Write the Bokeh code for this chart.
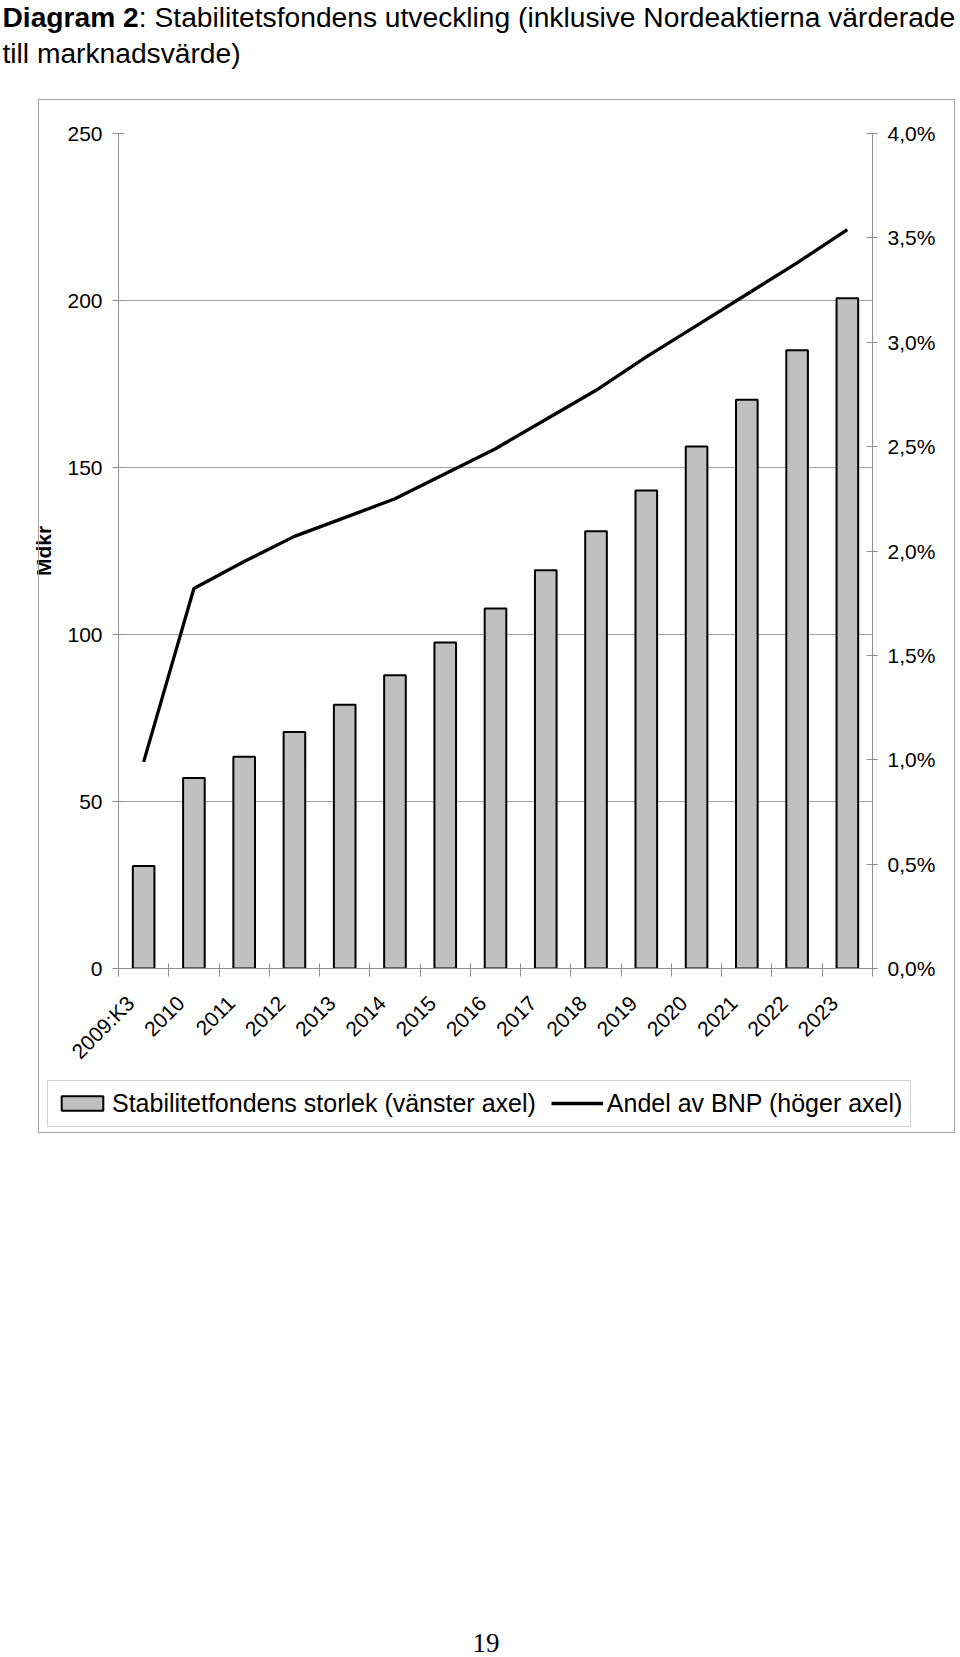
import math
from bokeh.plotting import figure
from bokeh.models import (Range1d, LinearAxis, FixedTicker, CustomJSTickFormatter,
                          Label, Legend, LegendItem, ColumnDataSource, Grid, InlineStyleSheet)
from bokeh.embed import file_html
from bokeh.resources import INLINE

# ---------------- data ----------------
categories = ["2009:K3", "2010", "2011", "2012", "2013", "2014", "2015", "2016",
              "2017", "2018", "2019", "2020", "2021", "2022", "2023"]
fund_size = [30.7, 57.0, 63.4, 70.8, 79.0, 87.8, 97.6, 107.8,
             119.2, 130.9, 143.1, 156.3, 170.3, 185.1, 200.7]          # Mdkr (left axis)
gdp_share = [0.99, 1.82, 1.95, 2.07, 2.16, 2.25, 2.37, 2.49,
             2.63, 2.77, 2.93, 3.08, 3.23, 3.38, 3.54]                 # % of BNP (right axis)
left_ticks = [0, 50, 100, 150, 200, 250]
right_ticks = [0.0, 0.5, 1.0, 1.5, 2.0, 2.5, 3.0, 3.5, 4.0]

title_bold = "Diagram 2"
title_rest = ": Stabilitetsfondens utveckling (inklusive Nordeaktierna värderade"
title_line2 = "till marknadsvärde)"
y_label = "Mdkr"
bar_label = "Stabilitetfondens storlek (vänster axel)"
line_label = "Andel av BNP (höger axel)"
page_number = "19"

# ---------------- layout ----------------
W, H = 960, 1657
FL, FR, FT, FB = 118, 88, 133, 689          # borders around the plot frame
LABEL_SHIFT = 0.26                           # x tick labels sit a bit left of bar centres
TEXT_DY = 8                                  # canvas-label baseline correction

FONT = "Liberation Sans"
AXIS_GREY = "#8f8f8f"
GRID_GREY = "#a3a3a3"

n = len(categories)
src = ColumnDataSource(dict(x=[i + 0.5 for i in range(n)], size=fund_size, share=gdp_share))

box_css = InlineStyleSheet(css="""
:host::after {
  content: "";
  position: absolute;
  left: 38px; top: 99px; width: 917px; height: 1034px;
  box-sizing: border-box;
  border: 1.5px solid #a3a3a3;
  pointer-events: none;
}
""")

p = figure(width=W, height=H, output_backend="svg", toolbar_location=None,
           x_range=Range1d(0, n), y_range=Range1d(left_ticks[0], left_ticks[-1]),
           x_axis_type=None, y_axis_type=None,
           min_border_left=FL, min_border_right=FR, min_border_top=FT, min_border_bottom=FB)
p.stylesheets = [box_css]
p.extra_y_ranges = {"pct": Range1d(right_ticks[0], right_ticks[-1])}
p.outline_line_color = None
p.background_fill_color = "white"
p.border_fill_color = "white"

# grid
p.add_layout(Grid(dimension=1, ticker=FixedTicker(ticks=left_ticks[1:]),
                  grid_line_color=GRID_GREY, grid_line_width=1))

# axes
def style_axis(ax, size="21px"):
    ax.axis_line_color = AXIS_GREY
    ax.major_tick_line_color = AXIS_GREY
    ax.minor_tick_line_color = AXIS_GREY
    ax.major_label_text_font = FONT
    ax.major_label_text_font_size = size
    ax.major_label_text_color = "black"

yaxis = LinearAxis(ticker=FixedTicker(ticks=left_ticks), axis_label=y_label,
                   major_tick_in=6, major_tick_out=6, major_label_standoff=10,
                   axis_label_standoff=9)
style_axis(yaxis)
yaxis.axis_label_text_font = FONT
yaxis.axis_label_text_font_size = "21px"
yaxis.axis_label_text_font_style = "bold"
yaxis.axis_label_text_color = "black"
p.add_layout(yaxis, "left")

raxis = LinearAxis(y_range_name="pct", ticker=FixedTicker(ticks=right_ticks),
                   formatter=CustomJSTickFormatter(code="return tick.toFixed(1).replace('.', ',') + '%';"),
                   major_tick_in=6, major_tick_out=5, major_label_standoff=10)
style_axis(raxis)
p.add_layout(raxis, "right")

xaxis = LinearAxis(ticker=FixedTicker(ticks=[i + 0.5 - LABEL_SHIFT for i in range(n)],
                                      minor_ticks=list(range(n + 1))),
                   formatter=CustomJSTickFormatter(args=dict(labels=categories),
                                                   code="return labels[Math.floor(tick)];"),
                   major_label_orientation=math.pi / 4,
                   major_tick_in=0, major_tick_out=0,
                   minor_tick_in=5, minor_tick_out=8, major_label_standoff=23)
style_axis(xaxis)
xaxis.major_tick_line_color = None
p.add_layout(xaxis, "below")

# glyphs
bars = p.vbar(x="x", top="size", width=0.43, source=src,
              fill_color="#c0c0c0", line_color="black", line_width=2)
line = p.line(x="x", y="share", y_range_name="pct", source=src,
              line_color="black", line_width=3.3)

# legend (in the panel below the x axis)
legend = Legend(items=[LegendItem(label=bar_label, renderers=[bars]),
                       LegendItem(label=line_label, renderers=[line])],
                orientation="horizontal", location=(47 - FL, 650),
                margin=6, padding=8, spacing=15, label_standoff=4,
                glyph_width=52, glyph_height=18,
                label_text_font=FONT, label_text_font_size="25px", label_text_color="black",
                border_line_color=GRID_GREY, border_line_width=1,
                background_fill_color="white", background_fill_alpha=1)
p.add_layout(legend, "below")

# title (canvas pixel positions)
def canvas_label(text, x, y, size, style="normal", font=FONT, align="left"):
    return Label(x=x, y=y - TEXT_DY, x_units="canvas", y_units="canvas", text=text,
                 text_font=font, text_font_size=size, text_font_style=style,
                 text_align=align, text_baseline="alphabetic", text_color="black")

TS = 28.2
p.add_layout(canvas_label(title_line2, 2, 60, f"{TS}px"), "above")
p.add_layout(canvas_label(title_rest, 2 + 4.835 * TS, 24, f"{TS}px"), "above")
p.add_layout(canvas_label(title_bold, 2, 24, f"{TS}px", style="bold"), "above")

# page number
p.add_layout(canvas_label(page_number, 485.5, 1650, "27px", font="Liberation Serif",
                          align="center"), "below")

open("out.html", "w").write(file_html(p, INLINE))
